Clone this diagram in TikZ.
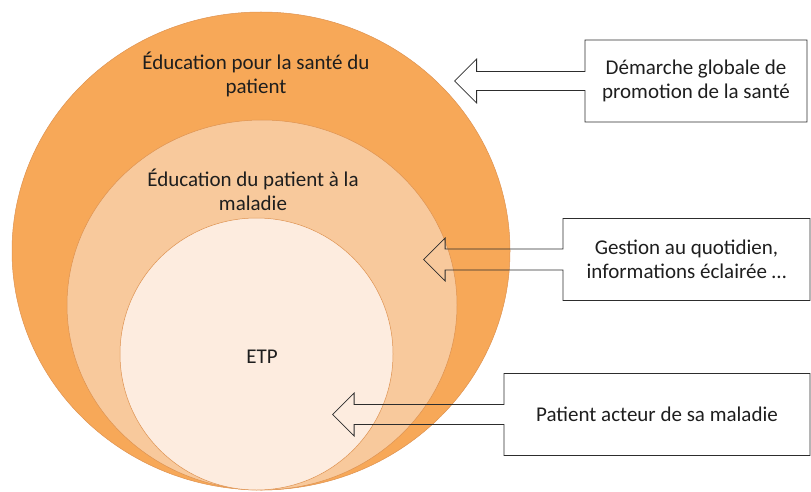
\documentclass[tikz,border=0pt]{standalone}
\usepackage{fontspec}
\setmainfont{Carlito}
\usepackage{tikz}
\usetikzlibrary{shapes.geometric, shapes.arrows, positioning}
\definecolor{outerorange}{RGB}{247,168,88}
\definecolor{midorange}{RGB}{248,201,156}
\definecolor{innerorange}{RGB}{253,236,223}
\definecolor{rimorange}{RGB}{222,146,80}
\definecolor{boxline}{RGB}{45,45,45}
\definecolor{textdark}{RGB}{30,30,30}

\begin{document}
\begin{tikzpicture}[x=1pt, y=-1pt,
  every node/.style={font=\fontsize{21}{24}\selectfont, text=textdark},
  disc/.style={draw=rimorange, line width=0.5pt, ellipse, inner sep=0pt},
  infobox/.style={draw=boxline, line width=0.8pt, arrow box, align=center,
    inner sep=0pt, minimum height=82pt, arrow box tip angle=90,
    arrow box head indent=0pt}]
\useasboundingbox (0,0) rectangle (811,492);

% Nested circles
\node[disc, fill=outerorange, minimum width=498pt, minimum height=478pt] (sante) at (261, 251) {};
\node[disc, fill=midorange, minimum width=390pt, minimum height=370pt] (maladie) at (262, 305) {};
\node[disc, fill=innerorange, minimum width=273pt, minimum height=272pt] (etp) at (256.5, 354) {};

% Circle labels
\node[align=center] (santelabel) at (256, 74) {Éducation pour la santé du\\patient};
\node[align=center] (maladielabel) at (253, 190) {Éducation du patient à la\\maladie};
\node (etplabel) at (262, 357) {ETP};

% Boxes with arrows
\node[infobox, minimum width=222pt, arrow box arrows={west:130pt from border},
  arrow box shaft width=19pt, arrow box head extend=12.5pt] (promotion) at (696, 81)
  {Démarche globale de\\promotion de la santé};
\node[infobox, minimum width=247pt, arrow box arrows={west:139pt from border},
  arrow box shaft width=21pt, arrow box head extend=11pt] (gestion) at (686.5, 259.5)
  {Gestion au quotidien,\\informations éclairée \dots};
\node[infobox, minimum width=306pt, arrow box arrows={west:171pt from border},
  arrow box shaft width=20pt, arrow box head extend=11.5pt] (acteur) at (657, 414.5)
  {Patient acteur de sa maladie};
\end{tikzpicture}
\end{document}
